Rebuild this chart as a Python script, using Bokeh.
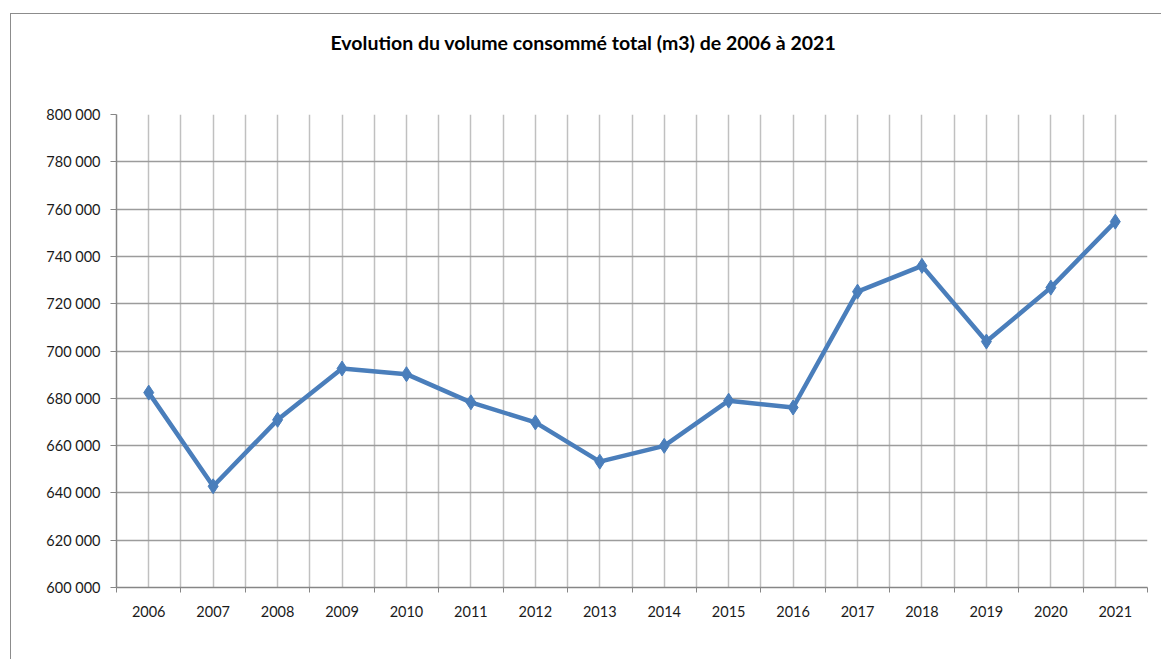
from bokeh.plotting import figure
from bokeh.models import FixedTicker, Title, ColumnDataSource
from bokeh.layouts import column
from bokeh.embed import file_html
from bokeh.resources import INLINE

years = ["2006", "2007", "2008", "2009", "2010", "2011", "2012", "2013",
         "2014", "2015", "2016", "2017", "2018", "2019", "2020", "2021"]
volumes = [682400, 642800, 670900, 692600, 690200, 678300, 669800, 653200,
           659900, 679000, 676100, 725100, 736000, 704000, 726800, 754700]
y_ticks = [600000, 620000, 640000, 660000, 680000, 700000, 720000, 740000,
           760000, 780000, 800000]
title_text = "Evolution du volume consommé total (m3) de 2006 à 2021"

FONT = "Lato"
xs = list(range(len(years)))
src = ColumnDataSource(dict(x=xs, y=volumes))

p = figure(width=1150, height=645, output_backend="svg", toolbar_location=None,
           x_range=(-0.5, len(years) - 0.5), y_range=(600000, 800000),
           min_border_left=105, min_border_top=100, min_border_right=14,
           min_border_bottom=72)
p.title = None
# spacer (closest to the frame) then the real title
p.add_layout(Title(text=" ", standoff=58, text_font_size="1px"), "above")
p.add_layout(Title(text=title_text, align="left", offset=214, standoff=0,
                   text_font=FONT, text_font_style="bold", text_font_size="19.5px",
                   text_color="#000000"), "above")
p.outline_line_color = None
p.background_fill_color = "white"
p.border_fill_color = "white"

# X axis: labels at category centres, tick marks at boundaries
p.xaxis.ticker = FixedTicker(ticks=xs,
                             minor_ticks=[i - 0.5 for i in range(len(years) + 1)])
p.xaxis.major_label_overrides = {i: y for i, y in enumerate(years)}
p.xaxis.major_tick_out = 0
p.xaxis.major_tick_in = 0
p.xaxis.minor_tick_out = 5
p.xaxis.minor_tick_in = 0
p.xaxis.minor_tick_line_color = "#868686"
p.xaxis.axis_line_color = "#868686"
p.xaxis.axis_line_width = 1.5
p.xaxis.major_label_standoff = 13
p.xaxis.major_label_text_font = FONT
p.xaxis.major_label_text_font_size = "14.5px"
p.xaxis.major_label_text_color = "#1a1a1a"

# Y axis
p.yaxis.ticker = FixedTicker(ticks=y_ticks, minor_ticks=[])
p.yaxis.major_label_overrides = {t: f"{t:,}".replace(",", " ") for t in y_ticks}
p.yaxis.major_tick_out = 6
p.yaxis.major_tick_in = 0
p.yaxis.major_tick_line_color = "#868686"
p.yaxis.axis_line_color = "#868686"
p.yaxis.axis_line_width = 1.5
p.yaxis.major_label_standoff = 10
p.yaxis.major_label_text_font = FONT
p.yaxis.major_label_text_font_size = "14.5px"
p.yaxis.major_label_text_color = "#1a1a1a"

# Grids
p.xgrid.grid_line_color = "#c0c0c0"
p.xgrid.grid_line_width = 1.5
p.xgrid.minor_grid_line_color = "#c0c0c0"
p.xgrid.minor_grid_line_width = 1.5
p.ygrid.grid_line_color = "#9c9c9c"
p.ygrid.grid_line_width = 1.5

# Series
p.line("x", "y", source=src, line_color="#4a7ebb", line_width=4.5)
p.scatter("x", "y", source=src, marker="diamond", size=15,
          fill_color="#4a7ebb", line_color="#4a7ebb")

layout = column(p, margin=(13, 0, 0, 10),
                styles={"border-left": "1px solid #8c8c8c",
                        "border-top": "1px solid #8c8c8c"})

open("out.html", "w").write(file_html(layout, INLINE))
